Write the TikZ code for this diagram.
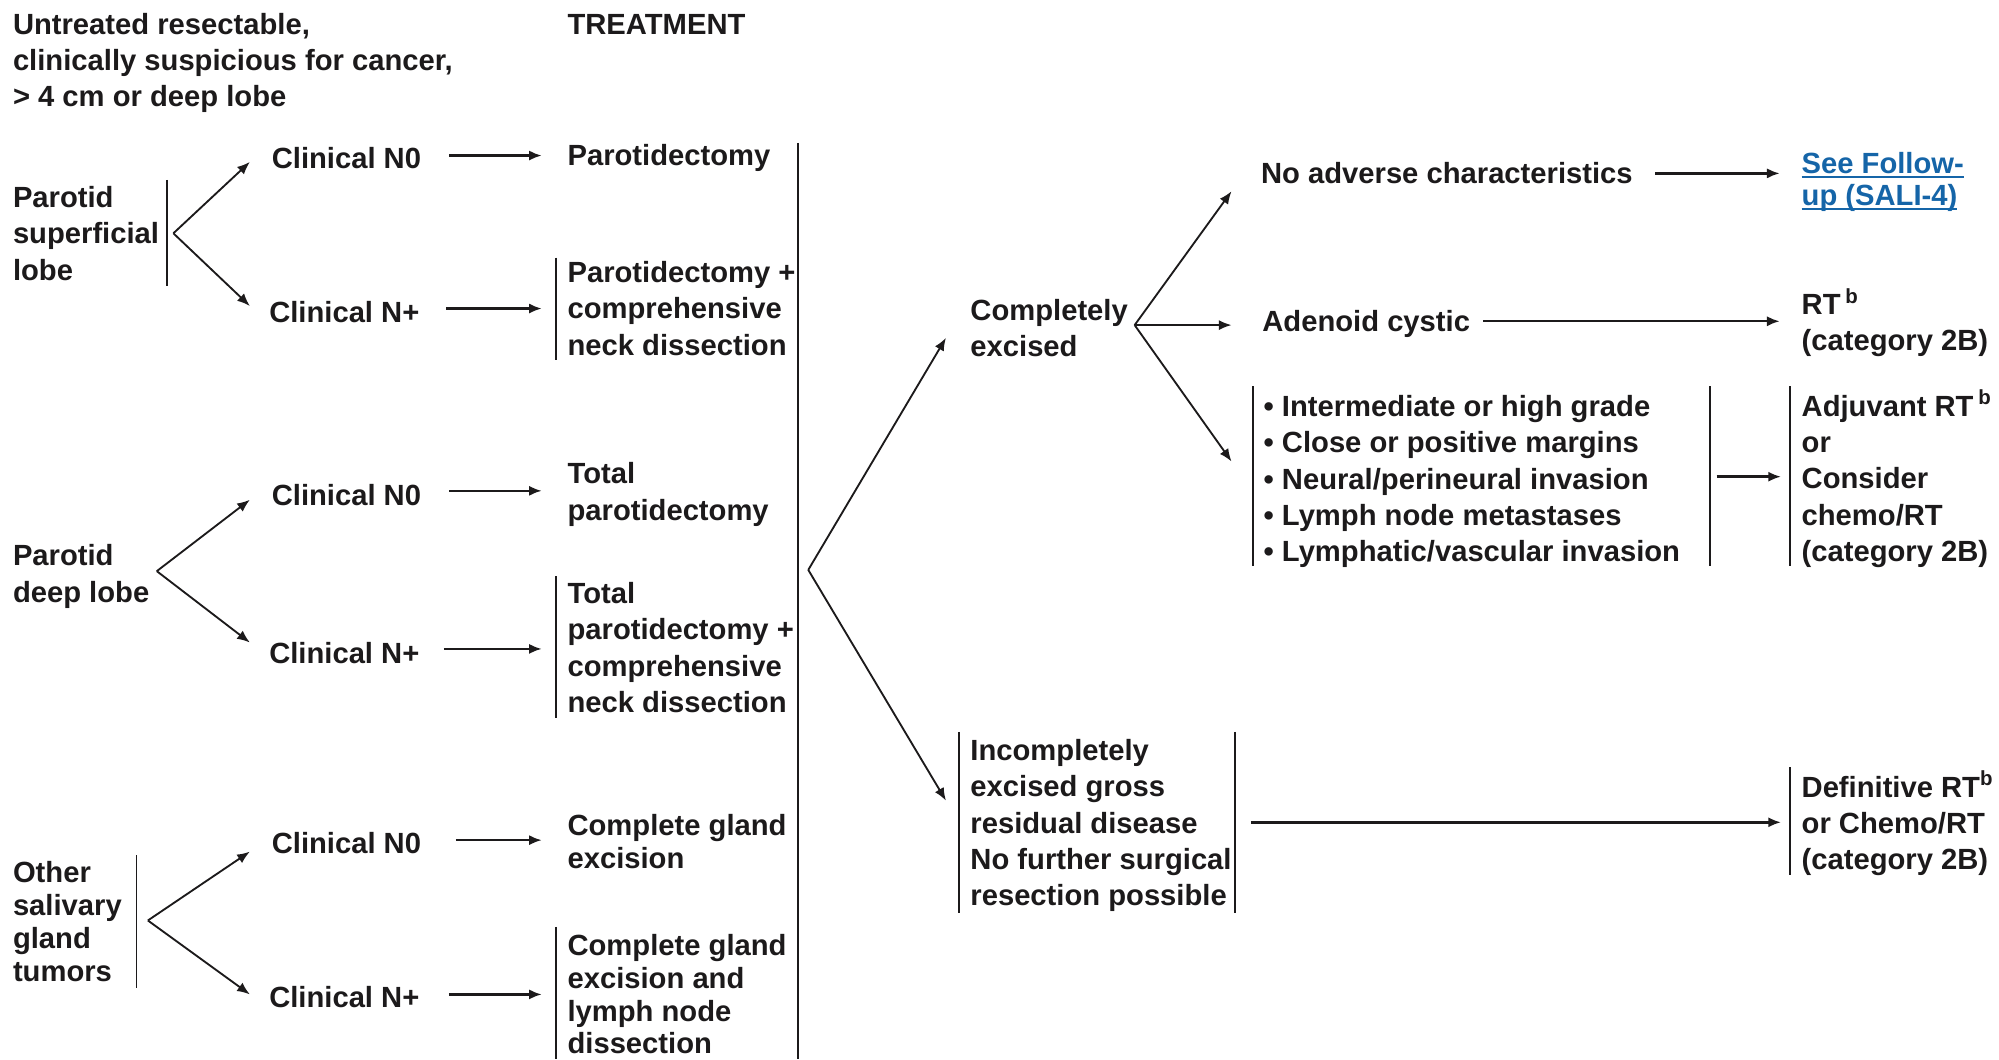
\documentclass[tikz,border=0pt]{standalone}
\usepackage{fontspec}
\setmainfont{Liberation Sans}
\usetikzlibrary{arrows.meta,calc}
\definecolor{ink}{HTML}{1C1A1B}
\definecolor{linkblue}{HTML}{1565A8}
% stacked lines, left aligned, evenly spaced
\newcommand\lines[1]{\begin{tabular}{@{}l@{}}#1\end{tabular}}
% underline that sits just under the baseline
\newcommand\linkline[1]{\setbox0\hbox{#1}\rlap{\rule[-3.4pt]{\wd0}{1.7pt}}\box0}
\begin{document}
\begin{tikzpicture}[x=1pt,y=-1pt,
  txt/.style={anchor=west,inner sep=0pt,text=ink,font=\fontsize{22.9pt}{28.5pt}\selectfont\bfseries},
  tight/.style={txt,font=\fontsize{22.9pt}{25.7pt}\selectfont\bfseries},
  linktxt/.style={txt,text=linkblue,font=\fontsize{22.9pt}{25pt}\selectfont\bfseries},
  arr/.style={draw=ink,line width=1.9pt,-{Latex[length=10pt,width=8pt]}},
  darr/.style={draw=ink,line width=1.45pt,-{Latex[length=10pt,width=8pt]}},
  bar/.style={draw=ink,line width=1.4pt}]
\useasboundingbox (0,0) rectangle (1568,831);

% ---------- headings ----------
\node[txt] (hdr) at (10,49.5) {\lines{Untreated resectable,\\clinically suspicious for cancer,\\> 4 cm or deep lobe}};
\node[txt] (treat) at (445,21.5) {\lines{TREATMENT}};

% ---------- parotid superficial lobe ----------
\node[txt] (ps) at (10,185.5) {\lines{Parotid\\superficial\\lobe}};
\node[txt] (c1a) at (213,126.5) {\lines{Clinical N0}};
\node[txt] (c1b) at (211,247.5) {\lines{Clinical N+}};
\node[txt] (t1a) at (445,124.5) {\lines{Parotidectomy}};
\node[txt] (t1b) at (445,244.5) {\lines{Parotidectomy +\\comprehensive\\neck dissection}};
\draw[bar] (131,141) -- (131,224);
\draw[bar] (436,202) -- (436,282);
\coordinate (b1) at (136,183);
\draw[darr] (b1) -- ($(c1a.west)+(-17,0.5)$);
\draw[darr] (b1) -- ($(c1b.west)+(-15,-7.5)$);
\draw[arr] ($(c1a.east)+(22,-4.5)$) -- ($(c1a.east -| t1a.west)+(-20,-4.5)$);
\draw[arr] ($(c1b.east)+(21,-5.5)$) -- ($(c1b.east -| t1b.west)+(-20,-5.5)$);

% ---------- parotid deep lobe ----------
\node[txt] (pd) at (10,452.5) {\lines{Parotid\\deep lobe}};
\node[txt] (c2a) at (213,390.5) {\lines{Clinical N0}};
\node[txt] (c2b) at (211,514.5) {\lines{Clinical N+}};
\node[txt] (t2a) at (445,388) {\lines{Total\\parotidectomy}};
\node[txt] (t2b) at (445,510.5) {\lines{Total\\parotidectomy +\\comprehensive\\neck dissection}};
\draw[bar] (436,452) -- (436,563);
\coordinate (b2) at (123,448);
\draw[darr] (b2) -- ($(c2a.west)+(-17,1.5)$);
\draw[darr] (b2) -- ($(c2b.west)+(-15,-10.5)$);
\draw[arr] ($(c2a.east)+(22,-5.5)$) -- ($(c2a.east -| t2a.west)+(-20,-5.5)$);
\draw[arr] ($(c2b.east)+(19,-5.5)$) -- ($(c2b.east -| t2b.west)+(-20,-5.5)$);

% ---------- other salivary gland tumors ----------
\node[tight] (os) at (10,726) {\lines{Other\\salivary\\gland\\tumors}};
\node[txt] (c3a) at (213,663.5) {\lines{Clinical N0}};
\node[txt] (c3b) at (211,784.5) {\lines{Clinical N+}};
\node[tight] (t3a) at (445,663) {\lines{Complete gland\\excision}};
\node[tight] (t3b) at (445,783) {\lines{Complete gland\\excision and\\lymph node\\dissection}};
\draw[bar] (107,671) -- (107,775);
\draw[bar] (436,727) -- (436,831);
\coordinate (b3) at (116,722);
\draw[darr] (b3) -- ($(c3a.west)+(-17,4.5)$);
\draw[darr] (b3) -- ($(c3b.west)+(-15,-4.5)$);
\draw[arr] ($(c3a.east)+(27,-4.5)$) -- ($(c3a.east -| t3a.west)+(-20,-4.5)$);
\draw[arr] ($(c3b.east)+(23,-4.5)$) -- ($(c3b.east -| t3b.west)+(-20,-4.5)$);

% ---------- treatment collector ----------
\draw[bar] (626,112) -- (626,831);
\coordinate (b4) at (634,447);

% ---------- after surgery ----------
\node[txt] (ce) at (761,260) {\lines{Completely\\excised}};
\node[txt] (inc) at (761,647.9) {\lines{Incompletely\\excised gross\\residual disease\\No further surgical\\resection possible}};
\draw[bar] (752,574) -- (752,716);
\draw[bar] (969,574) -- (969,716);
\draw[darr] (b4) -- ($(ce.west)+(-19,5)$);
\draw[darr] (b4) -- ($(inc.west)+(-19,-19.9)$);

\node[txt] (na) at (989,138.5) {\lines{No adverse characteristics}};
\node[txt] (ac) at (990,254.5) {\lines{Adenoid cystic}};
\node[txt] (bl) at (991,377.9) {\lines{• Intermediate or high grade\\• Close or positive margins\\• Neural/perineural invasion\\• Lymph node metastases\\• Lymphatic/vascular invasion}};
\draw[bar] (983,303) -- (983,444);
\draw[bar] (1341,303) -- (1341,444);
\coordinate (b5) at (890,255);
\draw[darr] (b5) -- ($(na.west)+(-23,11.5)$);
\draw[darr] (b5) -- ($(ac.west)+(-24,0.5)$);
\draw[darr] (b5) -- ($(bl.west)+(-25,-15.9)$);

% ---------- adjuvant treatment ----------
\node[linktxt] (fu) at (1413,143.7) {\lines{\linkline{See Follow-}\\\linkline{up (SALI-4)}}};
\node[txt] (rt) at (1413,255) {\lines{RT\,\textsuperscript{b}\\(category 2B)}};
\node[txt] (adj) at (1413,377.5) {\lines{Adjuvant RT\,\textsuperscript{b}\\or\\Consider\\chemo/RT\\(category 2B)}};
\node[txt] (def) at (1413,647.8) {\lines{Definitive RT\textsuperscript{b}\\or Chemo/RT\\(category 2B)}};
\draw[bar] (1404,303) -- (1404,444);
\draw[bar] (1404,602) -- (1404,686);
\draw[arr] ($(na.east)+(17.5,-2.5)$) -- ($(na.east -| fu.west)+(-17,-2.5)$);
\draw[arr] ($(ac.east)+(10,-2.5)$) -- ($(ac.east -| rt.west)+(-17,-2.5)$);
\draw[arr] ($(bl.east)+(28.5,-4)$) -- ($(bl.east -| adj.west)+(-16,-4)$);
\draw[arr] ($(inc.east)+(15,-2.9)$) -- ($(inc.east -| def.west)+(-16,-2.9)$);
\end{tikzpicture}
\end{document}
